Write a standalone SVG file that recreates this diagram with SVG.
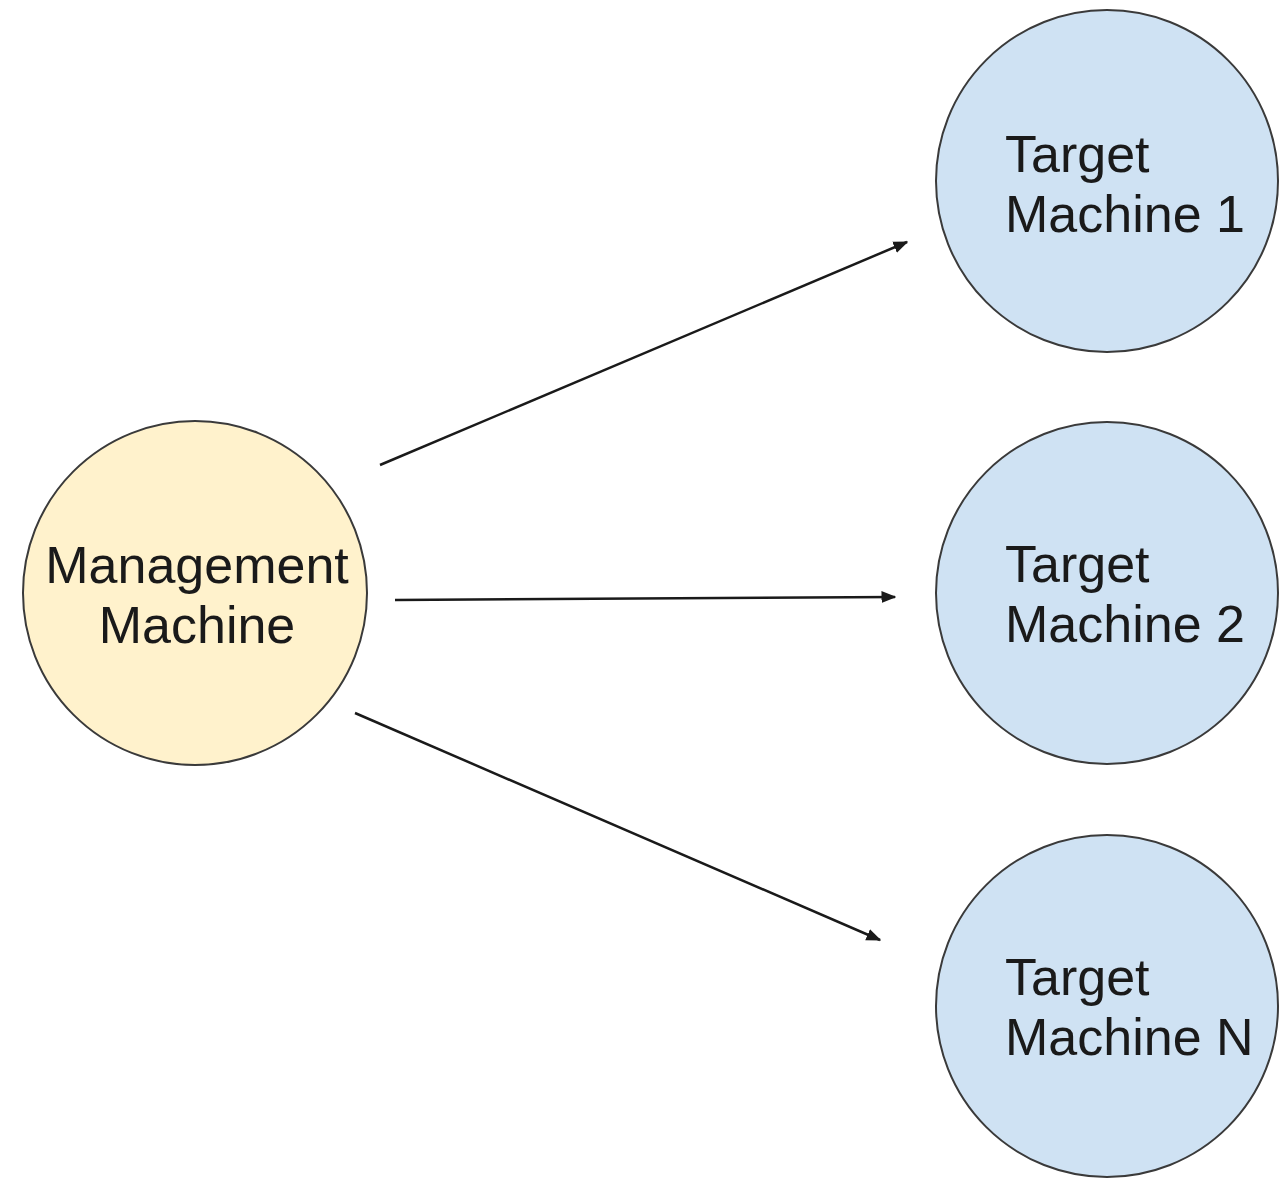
<svg xmlns="http://www.w3.org/2000/svg" width="1280" height="1178" viewBox="0 0 1280 1178">
<defs>
<style>
.node{stroke:#3a3a3a;stroke-width:2}
.mgmt{fill:#fff2cc}
.tgt{fill:#cfe2f3}
.lbl{font-family:"Liberation Sans",Arial,sans-serif;font-size:52px;fill:#1a1a1a}
.edge{stroke:#1a1a1a;stroke-width:2.5;fill:none;marker-end:url(#ah)}
</style>
<marker id="ah" viewBox="0 0 10 10" refX="9" refY="5" markerWidth="6" markerHeight="6" orient="auto" markerUnits="strokeWidth">
<path d="M0,1 L10,5 L0,9 Z" fill="#1a1a1a"/>
</marker>
</defs>
<rect width="1280" height="1178" fill="#ffffff"/>
<g id="connectors">
<line class="edge" x1="380" y1="465" x2="907" y2="242"/>
<line class="edge" x1="395" y1="600" x2="895" y2="597"/>
<line class="edge" x1="355" y1="713" x2="880" y2="940"/>
</g>
<g id="management">
<circle class="node mgmt" cx="195" cy="593" r="172"/>
<text class="lbl" x="197" y="583" text-anchor="middle">Management</text>
<text class="lbl" x="197" y="643" text-anchor="middle">Machine</text>
</g>
<g id="target1">
<circle class="node tgt" cx="1107" cy="181" r="171"/>
<text class="lbl" x="1005" y="172">Target</text>
<text class="lbl" x="1005" y="232">Machine 1</text>
</g>
<g id="target2">
<circle class="node tgt" cx="1107" cy="593" r="171"/>
<text class="lbl" x="1005" y="582">Target</text>
<text class="lbl" x="1005" y="642">Machine 2</text>
</g>
<g id="targetN">
<circle class="node tgt" cx="1107" cy="1006" r="171"/>
<text class="lbl" x="1005" y="995">Target</text>
<text class="lbl" x="1005" y="1055">Machine N</text>
</g>
</svg>
